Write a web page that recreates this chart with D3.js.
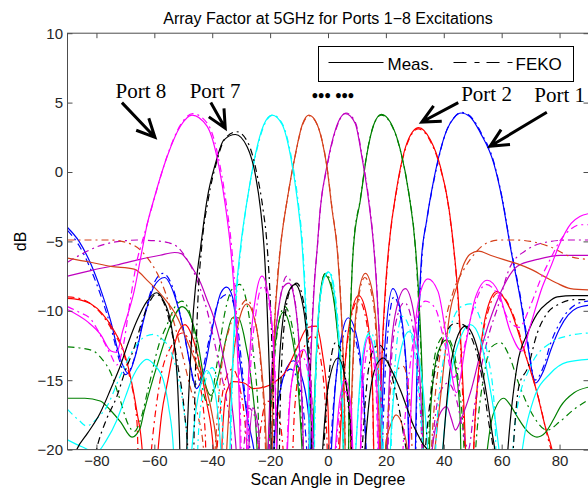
<!DOCTYPE html>
<html>
<head>
<meta charset="utf-8">
<script src="https://cdn.jsdelivr.net/npm/d3@7"></script>
<style>
  body { margin: 0; background: #fff; }
  svg { display: block; }
</style>
</head>
<body>
<div id="chart"></div>
<script>
// Tick values
const angleTicks = [-80, -60, -40, -20, 0, 20, 40, 60, 80];
const dbTicks = [-20, -15, -10, -5, 0, 5, 10];

// One colour per port (1..8)
const portColors = ["#0000ff", "#ff0000", "#008000", "#bf00bf", "#d5401b", "#00ffff", "#000000", "#ff00ff"];

// [scan angle (deg), dB]; -30 marks a null below the axis
const meas1 = [[-90,-4.0],[-86,-5.0],[-82,-6.6],[-78,-8.8],[-75,-10.8],[-72,-13.3],[-69,-14.5],[-66.5,-13.2],[-63.5,-10.5],[-60,-8.2],[-56.5,-7.6],[-53,-8.9],[-50,-11.3],[-47.5,-14.0],[-45.5,-15.6],[-43,-14.5],[-40,-11.3],[-37,-8.7],[-35,-8.3],[-33,-9.0],[-30.5,-13.5],[-28,-17.5],[-25,-21],[-22,-30],[-18,-18],[-15,-14.5],[-12,-13.6],[-9,-14.8],[-6.5,-18],[-4,-30],[0,-24],[2.5,-15.5],[5,-11.5],[7,-10.5],[9.5,-11.5],[12,-15],[14.5,-25],[17,-26],[19.5,-13],[22.4,-8.4],[25,-10],[27.3,-15],[29,-30],[30.8,-14],[32.2,-6.5],[34,-3.6],[36.5,-0.6],[41,3.0],[43.5,3.9],[46,4.25],[49,4.0],[52.7,2.8],[57.3,0.6],[60.2,-2.0],[63,-5.4],[66.5,-9.2],[69,-12.5],[71.7,-15.2],[74.5,-14.3],[77,-12.8],[80,-11.3],[83,-10.3],[86,-9.8],[90,-9.6]];
const feko1 = [[-90,-4.2],[-86,-5.3],[-82,-7.0],[-78,-9.2],[-75,-11.2],[-72,-13.6],[-70,-14.6],[-67,-13.5],[-64,-10.8],[-60.5,-8.2],[-57,-7.3],[-53.5,-8.4],[-50.5,-10.8],[-48,-13.5],[-46,-15.3],[-44,-14.8],[-41,-12],[-37.5,-9.2],[-34.5,-8.8],[-32,-10],[-29.5,-14.5],[-27,-20],[-24.5,-30],[-20,-22],[-16.5,-15.5],[-13,-14.2],[-10,-15.3],[-7.5,-19.5],[-5,-30],[-1,-26],[2,-16.5],[5,-12],[7.5,-11.2],[10,-12.5],[12.5,-17],[15,-30],[18,-24],[20,-13.5],[22.8,-9.0],[25.3,-10.8],[27.5,-16],[29.2,-30],[31,-13],[32.5,-6],[34.2,-3.4],[36.7,-0.5],[41,3.0],[43.5,3.9],[46,4.3],[49,4.05],[52.7,2.9],[57.3,0.7],[60.2,-1.9],[63,-5.3],[66.5,-9.0],[69,-12.2],[71.5,-15.0],[74.5,-14.0],[77,-12.3],[80,-10.9],[83,-10.0],[86,-9.5],[90,-9.3]];

const meas2 = [[-90,-9.1],[-86,-9.2],[-82,-9.5],[-78,-10.2],[-74,-11.4],[-71.5,-12.4],[-68.5,-14.5],[-66,-17.3],[-64.2,-20],[-62,-30],[-59.5,-22],[-57.5,-17.5],[-55.5,-15.2],[-52,-11.7],[-49.4,-11.0],[-47,-11.8],[-44.2,-14],[-42,-16.5],[-39.6,-20],[-38,-30],[-36.5,-19],[-35,-15.8],[-32.7,-15.1],[-29,-15.2],[-25.8,-15.6],[-22,-15.5],[-18.9,-15.2],[-15,-14.5],[-11,-12.8],[-7,-11.2],[-4,-11.1],[-2,-13],[0,-17],[1.5,-30],[4.5,-18],[7,-11.5],[10.6,-8.9],[13.5,-10.5],[15.3,-15],[16.8,-30],[18.5,-14],[19.8,-8.5],[21,-5.4],[23.8,-1.1],[27.3,2.1],[31.3,3.2],[35.4,2.3],[38.8,0.4],[41.7,-2.5],[43.4,-5.4],[44.6,-8.0],[46.3,-14],[47.5,-20],[48.5,-30],[50.5,-19],[52.7,-12.8],[55,-9.9],[58.4,-8.6],[61.5,-9.3],[63,-9.9],[67.6,-12.8],[72.2,-15.9],[75,-18.3],[77.4,-20],[80,-23],[84,-26],[90,-28]];
const feko2 = [[-90,-9.0],[-86,-9.1],[-82,-9.5],[-78,-10.3],[-74,-11.6],[-71,-12.8],[-68.5,-14.8],[-66,-18],[-64.5,-30],[-61,-20],[-58,-15],[-54,-12.5],[-50.5,-11.6],[-47.5,-12.3],[-45,-14.5],[-42.5,-18.5],[-41,-30],[-38,-19],[-35.5,-15],[-33,-14.2],[-30.5,-15.5],[-28,-20],[-26.5,-30],[-24,-20],[-21,-16.5],[-18,-16.8],[-15.5,-20],[-14,-30],[-11.5,-17],[-8,-12.5],[-5,-11.8],[-2.5,-13.5],[-0.5,-18.5],[1,-30],[4,-18.5],[7,-11.8],[10.5,-9.2],[13.3,-10.8],[15.3,-15.5],[16.7,-30],[18.5,-14.5],[19.8,-8.8],[21,-5.6],[23.8,-1.2],[27.3,2.0],[31.2,3.1],[35.4,2.2],[38.8,0.3],[41.7,-2.6],[43.4,-5.5],[44.6,-8.2],[46.2,-14.5],[47.2,-20],[48.3,-30],[50.8,-18],[53,-12.5],[55.5,-9.9],[58.8,-8.7],[62,-9.4],[64,-10.3],[68.5,-13.3],[73,-16.5],[76,-19.2],[78.5,-21],[84,-25],[90,-27]];

const meas3 = [[-90,-16.3],[-84,-16.3],[-78.7,-16.5],[-75,-17.2],[-71.7,-18],[-67.7,-19.1],[-65,-18.5],[-63.6,-17.3],[-59,-13.9],[-54.4,-11],[-50.4,-9.7],[-48,-10.2],[-45,-12.3],[-42.5,-15.2],[-40.5,-16.1],[-38,-14.8],[-35,-11.8],[-33,-10.5],[-31,-10.5],[-29,-11.8],[-26.5,-15],[-24.5,-20],[-23,-30],[-20.5,-19],[-18,-12],[-15.4,-10.1],[-13,-11.3],[-10.5,-15],[-8.5,-22],[-7,-30],[-5,-18],[-3,-9.5],[-1.2,-7.4],[1,-8.2],[3,-11],[5,-17],[6.4,-30],[7.6,-12],[8.8,-5.4],[11.2,-2.0],[13.5,1.35],[15.8,3.4],[18.4,4.15],[21.5,3.6],[25,1.6],[27.9,-1.5],[30.2,-5.4],[31.5,-9.5],[32.7,-16],[33.8,-30],[35.5,-17],[38,-13],[41,-12.1],[43.5,-13.5],[45.5,-17],[47,-30],[51,-30],[54,-22],[57,-17.5],[60.7,-16.3],[63,-16.8],[65.3,-17.6],[69,-18.7],[72.2,-19.1],[75,-18.8],[78,-17.8],[80.3,-16.9],[85,-15.9],[90,-15.5]];
const feko3 = [[-90,-12.6],[-85,-12.7],[-81,-12.9],[-78,-13.5],[-75.2,-14.4],[-72,-16.3],[-69,-18.2],[-67,-18.7],[-65,-18],[-62,-15.5],[-58.5,-12.5],[-55.6,-11.0],[-52.5,-9.6],[-50.5,-9.3],[-48,-10],[-45.5,-12.5],[-43,-16],[-41,-16.8],[-38.5,-14],[-35.5,-10],[-33,-8.4],[-30.5,-8.1],[-28,-9.5],[-25.8,-13],[-24,-18],[-22.8,-30],[-20,-18],[-17.5,-11.5],[-15,-9.7],[-12.5,-11],[-10.2,-15],[-8.2,-22],[-6.8,-30],[-4.8,-17.5],[-2.8,-9.2],[-1,-7.3],[1,-8.0],[3,-10.8],[5,-16.5],[6.3,-30],[7.6,-11.8],[8.8,-5.3],[11.2,-1.9],[13.5,1.4],[15.8,3.4],[18.4,4.1],[21.5,3.55],[25,1.55],[27.9,-1.5],[30.2,-5.5],[31.4,-9.8],[32.6,-16.5],[33.6,-30],[35.2,-17],[37.8,-12.5],[40.3,-11.8],[42.5,-12.3],[45,-15],[47,-20],[48.5,-30],[51,-20],[54,-14.5],[56.5,-12.6],[59.6,-12.3],[62.5,-13.2],[66,-15.3],[71,-17.6],[75.7,-18.6],[80,-18],[85,-17.1],[90,-16.4]];

const meas4 = [[-90,-7.5],[-82,-7.1],[-73,-6.7],[-65,-6.3],[-58,-6.0],[-53,-5.8],[-50.5,-5.9],[-48.8,-6.3],[-46,-7.2],[-44,-8.0],[-41.8,-9.2],[-39.6,-10.4],[-37,-12.5],[-35,-14.5],[-32.7,-17.7],[-31.2,-22],[-30,-30],[-28,-22],[-26,-17],[-24,-18.5],[-22.5,-30],[-20,-16],[-17.5,-10.5],[-15.5,-8.3],[-13.5,-8.0],[-11.5,-9.3],[-9.8,-13],[-8.5,-20],[-7.6,-30],[-6,-14],[-4.8,-8.4],[-3.7,-5.4],[-2.7,-2.7],[-0.4,0.4],[2.5,3.0],[6,4.2],[9.4,3.5],[11.7,1.1],[14,-2.0],[15.8,-5.4],[17,-9],[18.3,-16],[19.3,-30],[21,-16],[23,-10.5],[26.7,-8.4],[29.5,-10],[31.5,-14],[32.8,-20],[33.8,-30],[36,-20],[38.5,-17.5],[41,-16.9],[42.5,-17.7],[44,-18.6],[46,-17.8],[49.2,-15.9],[53.8,-12.1],[59.6,-8.7],[65.3,-6.8],[72.3,-6.3],[80.3,-6.0],[90,-6.0]];
const feko4 = [[-90,-6.5],[-85,-5.9],[-80,-5.4],[-75,-5.1],[-70,-4.95],[-66,-4.9],[-60,-4.95],[-55,-5.1],[-52,-5.4],[-49,-6.2],[-46.4,-7.2],[-44,-8.5],[-42,-9.8],[-39.5,-12],[-37,-14.5],[-35,-16.5],[-33.5,-19],[-32.2,-30],[-29.5,-21],[-27.5,-17],[-25.5,-17.5],[-23.5,-22],[-22,-30],[-19.5,-15],[-17,-9.8],[-14.2,-7.5],[-12,-8.6],[-10,-12.5],[-8.6,-19],[-7.7,-30],[-6.1,-14],[-4.9,-8.5],[-3.7,-5.5],[-2.7,-2.8],[-0.4,0.3],[2.5,2.9],[6.2,4.25],[9.5,3.55],[11.8,1.1],[14.1,-2.0],[15.9,-5.5],[17.1,-9.2],[18.4,-16.5],[19.4,-30],[21.2,-16.5],[23.3,-11],[26.4,-9.4],[29.2,-11],[31.3,-15],[32.6,-21],[33.5,-30],[36,-20],[38.5,-16],[41.5,-15.2],[44.5,-16.5],[46.5,-18.5],[48.5,-20],[50.5,-17],[53.5,-13.5],[56,-11.4],[58.4,-9.9],[63,-6.8],[68.8,-5.6],[76.9,-5.0],[83,-4.9],[90,-4.9]];

const meas5 = [[-90,-6.2],[-82,-6.5],[-75,-6.8],[-67,-7.0],[-62,-7.9],[-57,-9.0],[-52,-10.5],[-48.8,-12.1],[-45,-14.1],[-42,-15.7],[-40,-17.5],[-38.4,-20],[-37,-30],[-35,-20],[-33,-14],[-30.5,-10.5],[-28,-9.5],[-25.5,-10.5],[-23,-14],[-21.3,-20],[-20.3,-30],[-18.6,-12],[-17.3,-7.5],[-16.4,-5.4],[-14.1,-2.0],[-11.2,1.35],[-8.9,3.4],[-6.6,4.1],[-3.7,3.4],[-1.4,1.6],[-0.4,0.4],[1.4,-2.7],[3.1,-5.4],[4.3,-9],[5.6,-16],[6.7,-30],[8.2,-16],[10,-9.5],[12.9,-7.3],[15.5,-8.8],[17.2,-13],[18.6,-30],[20,-19.5],[21.5,-18.3],[23.5,-17.5],[26,-18.5],[28.5,-22],[30.5,-30],[33,-30],[36,-22],[39,-16],[42.3,-9.9],[44.6,-8.2],[47,-6.6],[49.2,-5.9],[52,-5.7],[56.1,-6.0],[60.5,-6.3],[65.3,-6.6],[70,-7.0],[74.5,-7.5],[79,-8.0],[83.8,-8.4],[90,-8.5]];
const feko5 = [[-90,-4.9],[-82,-4.9],[-75,-4.9],[-67,-5.3],[-62,-6.3],[-59,-7.3],[-56,-8.8],[-53.4,-10.7],[-50.5,-13],[-47.6,-15.5],[-45,-17.5],[-43,-20],[-41.5,-30],[-39,-20],[-37,-14.5],[-34,-11.2],[-31,-10],[-28,-9.2],[-25.5,-10.4],[-23.2,-14],[-21.6,-20],[-20.6,-30],[-18.8,-12.5],[-17.5,-7.7],[-16.5,-5.5],[-14.1,-2.0],[-11.2,1.3],[-8.9,3.35],[-6.4,4.05],[-3.6,3.35],[-1.3,1.55],[-0.3,0.3],[1.5,-2.8],[3.2,-5.5],[4.4,-9.2],[5.7,-16.5],[6.8,-30],[8.3,-16],[10.2,-9.6],[12.7,-7.6],[15.3,-9],[17,-13.5],[18.4,-30],[20.5,-18],[23,-14.5],[26,-14],[28.5,-17],[30.5,-30],[33.5,-30],[36,-19],[39.5,-12],[43,-8.8],[47,-7],[51,-5.8],[55,-5.1],[59.6,-4.9],[65,-4.9],[70,-5.0],[76.9,-5.4],[83.8,-6.1],[90,-6.3]];

const meas6 = [[-90,-19.3],[-85,-19.8],[-80,-20.2],[-76.5,-19.3],[-73,-17.9],[-70,-16.2],[-67.3,-14.7],[-65,-13.9],[-62.6,-13.5],[-60,-13.9],[-56.9,-15],[-55,-17],[-53.4,-20],[-52,-30],[-48,-22],[-45.5,-17],[-43.5,-15],[-41.9,-14.3],[-40,-15],[-38,-17.5],[-36.5,-22],[-35.2,-30],[-33.5,-17],[-32,-9.5],[-30.2,-5.4],[-27.9,-2.0],[-25,1.35],[-22.2,3.4],[-19.3,4.1],[-15.8,3.4],[-12.9,1.1],[-10.6,-2.0],[-8.9,-5.4],[-7.8,-9.5],[-6.7,-16],[-5.8,-30],[-4.5,-16],[-3,-9.5],[-1.3,-7.6],[0.2,-7.2],[1.8,-8.2],[3.5,-11.5],[5,-17],[6,-30],[9,-22],[11.5,-14],[14,-11.7],[16.3,-13.5],[18.5,-19],[19.5,-30],[22,-18],[25,-13],[28,-11.5],[30.5,-12.5],[33,-16],[35,-22],[36.5,-30],[40,-19],[43,-14],[46,-11.8],[49.2,-11.0],[52.5,-12],[55.5,-15],[58.5,-19],[61,-24],[63,-30],[66,-22],[71,-16.4],[76.9,-14.5],[82.6,-13.7],[90,-13.5]];
const feko6 = [[-90,-17.1],[-86,-17.9],[-83.4,-18.3],[-80,-17.8],[-76.4,-16.9],[-72,-14.8],[-67.3,-12.8],[-63.5,-11.9],[-60.3,-11.7],[-57,-12.1],[-54.5,-12.8],[-52,-14.6],[-50,-16.9],[-48.5,-20],[-47.2,-30],[-44.5,-18],[-42,-14.8],[-40,-14.1],[-38,-15.5],[-36.3,-19],[-35,-30],[-33.2,-16],[-31.7,-9.3],[-30,-5.3],[-27.8,-1.9],[-24.8,1.4],[-22,3.4],[-19.1,4.1],[-15.6,3.4],[-12.7,1.1],[-10.4,-2.0],[-8.7,-5.5],[-7.6,-9.7],[-6.5,-16.5],[-5.6,-30],[-4.3,-15.5],[-2.7,-9.2],[-1,-7.5],[0.5,-7.2],[2.1,-8.3],[3.8,-11.8],[5.2,-17.5],[6.3,-30],[9.5,-20],[12,-13.5],[14.6,-11.5],[17,-13.5],[19,-19],[20,-30],[22.5,-16],[25.6,-10.4],[28.5,-11.5],[31,-15],[33,-21],[34.5,-30],[38,-17],[42,-11.5],[46,-9.7],[49.2,-9.5],[52.5,-10.5],[55,-13],[57.5,-17],[59.5,-30],[62,-25],[65,-17.5],[70,-14],[76.9,-12.3],[83,-11.8],[90,-11.6]];

const meas7 = [[-90,-22],[-86.8,-20],[-83,-18.8],[-78.8,-17.4],[-75,-15.6],[-71.8,-14],[-69,-12.3],[-66,-10.7],[-62.5,-9.3],[-59.2,-8.7],[-57,-9.2],[-54.5,-10.7],[-52.2,-14.5],[-51.2,-20],[-50.3,-30],[-48.5,-18],[-46.5,-10],[-44,-5.4],[-41.8,-2.0],[-38.9,0.6],[-36,2.3],[-32,2.7],[-27.9,1.8],[-25,-0.3],[-23.3,-2.7],[-22.1,-5.4],[-21,-10],[-19.8,-18],[-18.8,-30],[-17.3,-16],[-15.5,-10.5],[-13.5,-8.6],[-11.3,-8.1],[-9.3,-9],[-7.3,-12],[-5.8,-18],[-4.8,-30],[-2.5,-22],[0,-15.5],[3.5,-13.4],[6,-15],[8,-19],[9.5,-30],[12,-22],[14.5,-16],[17,-13.8],[19.2,-13.4],[22,-14.3],[25,-15.7],[29.6,-18.3],[32.5,-19.5],[35.4,-20.5],[36.5,-30],[39,-22],[42,-14.5],[45,-11.7],[47.5,-11.1],[50.5,-12],[53.5,-14.5],[56.5,-18.5],[58.5,-22],[59.6,-30],[61.5,-22],[65.3,-14],[69,-11.6],[72.3,-10.2],[76,-9.4],[79.2,-9.0],[85,-8.9],[90,-8.9]];
const feko7 = [[-82,-22],[-80,-20],[-76.5,-17.8],[-73,-16.2],[-70,-14.3],[-67.2,-12.8],[-64,-10.6],[-61.5,-9.3],[-59.4,-8.8],[-57,-9.3],[-54.5,-11],[-52,-13.8],[-49.5,-17.5],[-48.2,-21],[-47.3,-30],[-46,-16],[-45,-9.5],[-43.6,-5.3],[-41.4,-2.0],[-38.5,0.7],[-35.6,2.4],[-31.5,2.9],[-27.4,2.0],[-24.5,-0.2],[-22.5,-2.6],[-21,-5.4],[-19.8,-10],[-18.7,-18],[-17.8,-30],[-16.4,-16],[-14.7,-10.2],[-12.8,-8.4],[-10.8,-8.0],[-8.8,-9],[-6.8,-12.2],[-5.3,-18.5],[-4.2,-30],[-1.5,-20],[0.8,-13.8],[2.6,-12.3],[4.6,-13],[6.6,-16],[8.3,-21],[9.3,-30],[11.5,-21],[14,-14.2],[16.3,-12.6],[18,-12.5],[20.5,-13.5],[23,-15.5],[26,-18.8],[28,-22],[29.5,-30],[32,-24],[35,-17],[38,-13.3],[41,-11.5],[44,-10.9],[46.7,-11],[49.5,-11.9],[52.5,-14],[55.5,-18],[57.5,-21],[58.9,-30],[61.9,-30],[64,-20],[66,-15.4],[69,-14.1],[72.3,-11.6],[76,-10.1],[80,-9.5],[85,-9.2],[90,-9.2]];

const meas8 = [[-90,-9.9],[-83,-10.8],[-78.6,-11.7],[-75,-12.9],[-73,-13],[-71,-11.5],[-67,-8.6],[-64.2,-5.6],[-62.5,-3.8],[-60.2,-2.0],[-55.6,1.1],[-51,3.3],[-47,4.1],[-41.8,3.3],[-37.7,0.4],[-35.4,-2.5],[-33.7,-5.4],[-32,-10],[-30.5,-18],[-29.5,-30],[-27.5,-15],[-25,-9],[-22.8,-7.5],[-20.5,-9],[-18.5,-14],[-16.5,-30],[-13,-16],[-10.5,-13.3],[-8.4,-12.8],[-6,-15],[-3.5,-30],[1,-24],[4,-16.5],[6,-15],[8,-17],[10,-30],[12,-14],[14,-11.9],[16.5,-14],[19,-30],[25,-30],[28,-20],[30,-11.5],[32,-8.6],[34.5,-7.7],[38,-8.6],[41,-12],[44.4,-15.9],[47.5,-12.5],[51,-9],[55,-7.8],[59,-8.7],[63,-11.5],[67,-12.9],[70,-11],[74,-8.3],[77,-6.8],[80,-5.2],[84,-3.7],[87,-3.2],[90,-3.0]];
const feko8 = [[-90,-9.7],[-86,-10.1],[-82,-10.6],[-78,-12.0],[-75,-13.2],[-73,-13.9],[-71,-12.8],[-68.5,-9.5],[-66,-6.4],[-64,-4.9],[-62,-3.4],[-60,-1.9],[-55.4,1.25],[-50.8,3.45],[-46.7,4.2],[-41.5,3.45],[-37.3,0.45],[-35,-2.5],[-33.3,-5.4],[-31.6,-10.3],[-30.2,-18],[-29.2,-30],[-27.2,-16],[-24.8,-10],[-22.5,-8.2],[-20.3,-9.6],[-18.3,-14.5],[-16.5,-30],[-13.3,-16.5],[-10.7,-13.8],[-8.6,-13.4],[-6.2,-15.5],[-3.8,-30],[0.8,-26],[3.8,-17.5],[5.8,-15.8],[7.8,-17.5],[9.8,-30],[12.2,-15],[14.2,-12.6],[16.3,-14.5],[18.7,-30],[23,-30],[26.5,-18],[30,-11.5],[33.6,-9.3],[37,-9.8],[40.5,-12.5],[43.5,-14.8],[46,-13.5],[50,-10],[54.5,-8.1],[58.5,-8.8],[62,-10.5],[66,-11.2],[70,-9.6],[73.5,-7.7],[77,-6.2],[80,-5.0],[84,-4.1],[87,-3.8],[90,-3.8]];

const measured = [meas1, meas2, meas3, meas4, meas5, meas6, meas7, meas8];
const feko = [feko1, feko2, feko3, feko4, feko5, feko6, feko7, feko8];

const W = 588, H = 489;
const plot = { left: 67.5, right: 588.5, top: 33.2, bottom: 449.6 };
const font = "'Liberation Sans', Arial, Helvetica, sans-serif";
const serif = "'Liberation Serif', 'Times New Roman', serif";
const axisColor = "#4d4d4d";
const dashDot = "7,4,2,4";

const svg = d3.select("#chart").append("svg")
  .attr("width", W)
  .attr("height", H);

const x = d3.scaleLinear().domain([-90, 90]).range([plot.left, plot.right]);
const y = d3.scaleLinear().domain([-20, 10]).range([plot.bottom, plot.top]);

svg.append("clipPath").attr("id", "clip")
  .append("rect")
  .attr("x", plot.left).attr("y", plot.top)
  .attr("width", plot.right - plot.left).attr("height", plot.bottom - plot.top);

// Curves
const line = d3.line()
  .x(d => x(d[0]))
  .y(d => y(d[1]))
  .curve(d3.curveMonotoneX);

const curves = svg.append("g").attr("clip-path", "url(#clip)");

measured.forEach((data, i) => {
  curves.append("path")
    .attr("d", line(data))
    .attr("fill", "none")
    .attr("stroke", portColors[i])
    .attr("stroke-width", 1.2);
  curves.append("path")
    .attr("d", line(feko[i]))
    .attr("fill", "none")
    .attr("stroke", portColors[i])
    .attr("stroke-width", 1.2)
    .attr("stroke-dasharray", dashDot);
});

// Axes (ticks point inward, MATLAB style)
const styleAxis = g => {
  g.select(".domain").remove();
  g.selectAll(".tick line").attr("stroke", axisColor);
  g.selectAll(".tick text")
    .attr("fill", "#262626")
    .style("font-family", font)
    .style("font-size", "15px");
};

svg.append("g")
  .attr("transform", `translate(0,${plot.bottom})`)
  .call(d3.axisBottom(x).tickValues(angleTicks).tickSize(-5).tickPadding(6))
  .call(styleAxis);

svg.append("g")
  .attr("transform", `translate(0,${plot.top})`)
  .call(d3.axisTop(x).tickValues(angleTicks).tickSize(-5).tickFormat(""))
  .call(styleAxis);

svg.append("g")
  .attr("transform", `translate(${plot.left},0)`)
  .call(d3.axisLeft(y).tickValues(dbTicks).tickSize(-5).tickPadding(4.5))
  .call(styleAxis);

svg.append("g")
  .attr("transform", `translate(${plot.right},0)`)
  .call(d3.axisRight(y).tickValues(dbTicks).tickSize(-5).tickFormat(""))
  .call(styleAxis);

svg.append("rect")
  .attr("x", plot.left).attr("y", plot.top)
  .attr("width", plot.right - plot.left).attr("height", plot.bottom - plot.top)
  .attr("fill", "none")
  .attr("stroke", axisColor)
  .attr("stroke-width", 1);

// Title and axis labels
svg.append("text")
  .attr("x", x(0)).attr("y", 24)
  .attr("text-anchor", "middle")
  .style("font-family", font).style("font-size", "16px")
  .attr("fill", "#000")
  .text("Array Factor at 5GHz for Ports 1\u22128 Excitations");

svg.append("text")
  .attr("x", x(0)).attr("y", 484.5)
  .attr("text-anchor", "middle")
  .style("font-family", font).style("font-size", "16px")
  .attr("fill", "#000")
  .text("Scan Angle in Degree");

svg.append("text")
  .attr("transform", `translate(26,${y(-5)}) rotate(-90)`)
  .attr("text-anchor", "middle")
  .style("font-family", font).style("font-size", "16px")
  .attr("fill", "#000")
  .text("dB");

// Legend
const legend = svg.append("g").attr("transform", "translate(318.5,46.5)");
legend.append("rect")
  .attr("width", 255).attr("height", 35)
  .attr("fill", "#fff").attr("stroke", "#000").attr("stroke-width", 1);
legend.append("line")
  .attr("x1", 10).attr("x2", 65).attr("y1", 16).attr("y2", 16)
  .attr("stroke", "#000").attr("stroke-width", 1.2);
legend.append("text")
  .attr("x", 69).attr("y", 23)
  .style("font-family", font).style("font-size", "17px")
  .text("Meas.");
legend.append("line")
  .attr("x1", 135).attr("x2", 195).attr("y1", 16).attr("y2", 16)
  .attr("stroke", "#000").attr("stroke-width", 1.2)
  .attr("stroke-dasharray", "13,8,5,7");
legend.append("text")
  .attr("x", 197).attr("y", 23)
  .style("font-family", font).style("font-size", "17px")
  .text("FEKO");

// Port annotations
const notes = [
  { label: "Port 8", tx: -73.4, ty: 5.3, from: [-71.2, 5.0], to: [-59.8, 2.5] },
  { label: "Port 7", tx: -47.8, ty: 5.3, from: [-40.5, 5.0], to: [-35.5, 3.15] },
  { label: "Port 2", tx: 46.0, ty: 5.1, from: [45.0, 5.0], to: [32.4, 3.6] },
  { label: "Port 1", tx: 71.3, ty: 5.05, from: [75.6, 4.3], to: [56.0, 1.85] }
];

const ann = svg.append("g");
notes.forEach(n => {
  ann.append("text")
    .attr("x", x(n.tx)).attr("y", y(n.ty))
    .style("font-family", serif).style("font-size", "21px")
    .attr("fill", "#000")
    .text(n.label);
  const x1 = x(n.from[0]), y1 = y(n.from[1]);
  const x2 = x(n.to[0]), y2 = y(n.to[1]);
  const ang = Math.atan2(y2 - y1, x2 - x1);
  const head = 20, spread = 0.45;
  ann.append("path")
    .attr("d", `M${x1},${y1}L${x2},${y2}` +
      `M${x2 - head * Math.cos(ang - spread)},${y2 - head * Math.sin(ang - spread)}L${x2},${y2}` +
      `L${x2 - head * Math.cos(ang + spread)},${y2 - head * Math.sin(ang + spread)}`)
    .attr("fill", "none")
    .attr("stroke", "#000")
    .attr("stroke-width", 3);
});

ann.append("text")
  .attr("x", x(-5.6)).attr("y", y(5.05))
  .style("font-family", serif).style("font-size", "18px").style("font-weight", "bold")
  .attr("fill", "#000")
  .text("\u2022\u2022\u2022 \u2022\u2022\u2022");
</script>
</body>
</html>
